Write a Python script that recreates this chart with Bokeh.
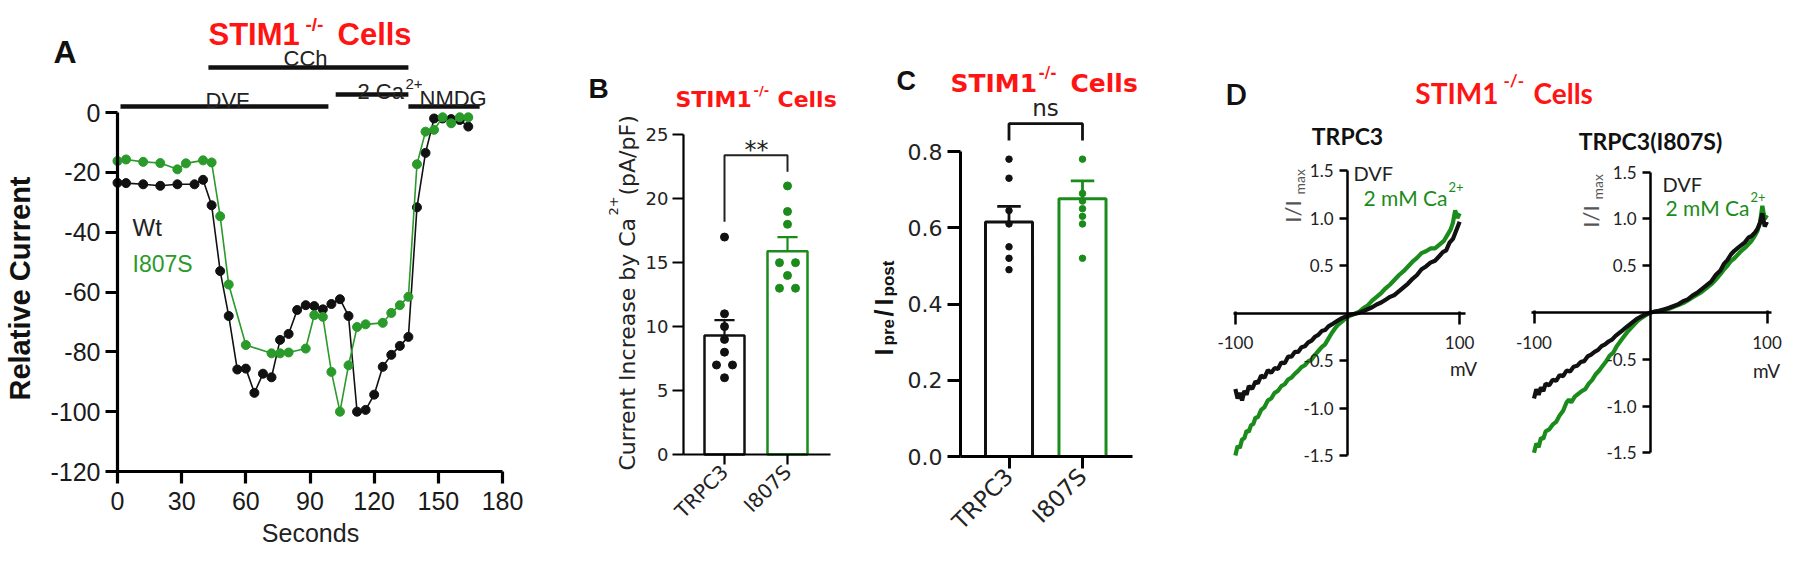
import math
from bokeh.plotting import figure
from bokeh.layouts import row
from bokeh.models import Label, FixedTicker, PrintfTickFormatter
from bokeh.embed import file_html
from bokeh.resources import INLINE

# ------------------------------------------------------------------ data
# Panel A: relative current vs time
time_wt = [0, 4, 12, 20, 28, 36, 40, 44, 48, 52, 56, 60, 64, 68, 72, 76, 80, 84, 88, 92,
           96, 100, 104, 108, 112, 116, 120, 124, 128, 132, 136, 140, 144, 148, 152, 156, 160, 164]
curr_wt = [-23.5, -23.6, -24, -24.5, -24, -24, -22.5, -31, -53, -68, -85.9, -85.6, -93.7, -87.3,
           -88.5, -76, -74, -66, -64.4, -64.7, -65.8, -64, -62.4, -68, -100, -99.4, -94.3, -85,
           -81, -78, -75, -31.7, -13.5, -2, -2, -2.2, -2.5, -4.7]
time_mut = [0, 4, 12, 20, 28, 32, 40, 44, 48, 52, 60, 72, 76, 80, 88, 92, 96, 100, 104, 108,
            112, 116, 124, 128, 132, 136, 140, 144, 148, 152, 156, 160, 164]
curr_mut = [-16.2, -15.7, -16.5, -16.9, -19, -17, -16, -16.7, -34.7, -57.5, -77.7, -80.5, -80.5,
            -80.2, -78.9, -67.7, -68.3, -86.7, -100, -84.5, -71.7, -70.8, -70.3, -67, -64.4,
            -61.6, -17.3, -6.4, -5.8, -1.6, -3.6, -1.6, -1.6]
proto_label = ["CCh", "DVF", "2 Ca", "NMDG"]
proto_start = [42.5, 1.4, 102.0, 136.0]
proto_end = [136.0, 98.6, 136.0, 169.3]
proto_level = [15.0, 2.0, 6.0, 2.0]

# Panel B: current increase by Ca2+
groups = ["TRPC3", "I807S"]
b_mean = [9.3, 15.9]
b_sem = [1.2, 1.1]
b_trpc3 = [17, 11, 10, 9, 8, 7, 7, 6]
b_i807s = [21, 19, 18, 15, 15, 14, 13, 13]

# Panel C: Ipre/Ipost
c_mean = [0.615, 0.676]
c_sem = [0.041, 0.047]
c_trpc3 = [0.78, 0.73, 0.645, 0.61, 0.55, 0.52, 0.49]
c_i807s = [0.78, 0.69, 0.67, 0.65, 0.63, 0.61, 0.52]

# Panel D: I/V curves (mV, I/Imax)
d1_dvf_mv = [-100, -98, -96, -94, -92, -90, -88, -85, -82, -80, -77, -74, -71, -68, -65, -62, -59,
             -56, -53, -50, -47, -44, -41, -38, -35, -32, -29, -26, -23, -20, -17, -14, -10, -6,
             -2, 2, 6, 10, 14, 18, 22, 26, 30, 34, 38, 42, 46, 50, 54, 58, 62, 66, 70, 74, 78,
             82, 85, 88, 91, 94, 96, 98, 100]
d1_dvf_i = [-0.80, -0.90, -0.84, -0.92, -0.82, -0.86, -0.77, -0.80, -0.72, -0.74, -0.66, -0.68,
            -0.60, -0.63, -0.58, -0.59, -0.52, -0.53, -0.46, -0.46, -0.41, -0.41, -0.36, -0.35,
            -0.31, -0.29, -0.25, -0.23, -0.19, -0.18, -0.14, -0.12, -0.09, -0.06, -0.04, -0.02,
            -0.01, 0.0, 0.02, 0.04, 0.06, 0.09, 0.11, 0.14, 0.17, 0.19, 0.23, 0.27, 0.31, 0.36,
            0.40, 0.46, 0.49, 0.53, 0.55, 0.60, 0.64, 0.66, 0.74, 0.78, 0.84, 0.90, 0.96]
d1_ca_mv = [-100, -98, -96, -94, -92, -90, -88, -86, -84, -82, -80, -77, -74, -71, -68, -65, -62,
            -59, -56, -53, -50, -47, -44, -41, -38, -35, -32, -29, -26, -23, -20, -17, -14, -11,
            -8, -5, -2, 2, 6, 10, 14, 18, 22, 26, 30, 34, 38, 42, 46, 50, 54, 58, 62, 66, 70, 74,
            78, 82, 86, 89, 92, 94, 96, 98, 100]
d1_ca_i = [-1.50, -1.40, -1.42, -1.33, -1.32, -1.24, -1.25, -1.18, -1.17, -1.10, -1.10, -1.02,
           -0.99, -0.92, -0.90, -0.84, -0.82, -0.77, -0.75, -0.70, -0.68, -0.64, -0.61, -0.57,
           -0.55, -0.51, -0.49, -0.44, -0.40, -0.36, -0.33, -0.27, -0.21, -0.16, -0.12, -0.09,
           -0.06, -0.03, -0.01, 0.01, 0.05, 0.08, 0.13, 0.17, 0.21, 0.26, 0.30, 0.35, 0.40, 0.44,
           0.49, 0.54, 0.58, 0.63, 0.65, 0.68, 0.68, 0.72, 0.76, 0.82, 0.88, 0.95, 1.08, 1.00, 1.05]
d2_dvf_mv = [-100, -98, -96, -94, -92, -90, -87, -84, -81, -78, -75, -72, -69, -66, -63, -60, -57,
             -54, -51, -48, -45, -42, -39, -36, -33, -30, -27, -24, -21, -18, -15, -12, -9, -6,
             -3, 0, 4, 8, 12, 16, 20, 24, 28, 32, 36, 40, 44, 48, 52, 56, 60, 63, 66, 69, 72, 75,
             78, 81, 84, 87, 90, 92, 94, 96, 98, 100]
d2_dvf_i = [-0.92, -0.82, -0.88, -0.80, -0.84, -0.76, -0.78, -0.72, -0.73, -0.67, -0.68, -0.62,
            -0.63, -0.58, -0.57, -0.53, -0.52, -0.47, -0.45, -0.42, -0.40, -0.36, -0.34, -0.31,
            -0.29, -0.25, -0.22, -0.19, -0.16, -0.13, -0.10, -0.07, -0.05, -0.03, -0.015, 0.0,
            0.01, 0.02, 0.035, 0.05, 0.07, 0.09, 0.12, 0.14, 0.18, 0.21, 0.25, 0.29, 0.33, 0.40,
            0.45, 0.52, 0.56, 0.62, 0.66, 0.69, 0.72, 0.75, 0.80, 0.82, 0.86, 0.90, 0.96, 1.06,
            0.92, 0.97]
d2_ca_mv = [-100, -98, -96, -94, -92, -90, -87, -84, -81, -78, -75, -72, -70, -68, -65, -62, -59,
            -56, -53, -50, -47, -44, -41, -38, -35, -32, -29, -26, -23, -20, -17, -14, -11, -8,
            -4, 0, 4, 8, 12, 16, 20, 24, 28, 32, 36, 40, 44, 48, 52, 56, 60, 63, 66, 69, 72, 75,
            78, 81, 84, 87, 90, 92, 94, 96, 98, 100]
d2_ca_i = [-1.50, -1.40, -1.44, -1.34, -1.35, -1.27, -1.25, -1.20, -1.17, -1.10, -1.05, -0.96,
           -0.93, -0.96, -0.90, -0.87, -0.84, -0.82, -0.76, -0.72, -0.66, -0.62, -0.57, -0.52,
           -0.46, -0.43, -0.36, -0.31, -0.26, -0.21, -0.17, -0.13, -0.09, -0.06, -0.03, 0.0,
           0.01, 0.015, 0.025, 0.04, 0.06, 0.08, 0.10, 0.13, 0.16, 0.19, 0.22, 0.26, 0.30, 0.35,
           0.41, 0.46, 0.50, 0.55, 0.58, 0.62, 0.66, 0.69, 0.73, 0.77, 0.83, 0.88, 0.96, 1.14,
           1.00, 1.04]

# ------------------------------------------------------------------ styles
TOP, BOTTOM = 0, 546          # figures occupy a 1784 x 546 block at the page's top-left
H = BOTTOM - TOP
BLACK = "#111111"
GREEN_A = "#2a9a2a"
GREEN = "#1b8c1b"
RED = "#ff1414"
ARIAL = "Liberation Sans"
WIDE = "DejaVu Sans"
CALI = "Lato"


class Frame:
    """Figure whose plotting frame fills it entirely; maps window pixels to data."""
    def __init__(self, left, width, x0_px, xs, y0_px, ys):
        self.left, self.width = left, width
        self.x0, self.xs, self.y0, self.ys = x0_px, xs, y0_px, ys
        self.xr = ((left - x0_px) / xs, (left + width - x0_px) / xs)
        self.yr = ((y0_px - BOTTOM) / ys, (y0_px - TOP) / ys)

    def x(self, rx):
        return (rx - self.x0) / self.xs

    def y(self, ry):
        return (self.y0 - ry) / self.ys


def new_fig(fr):
    p = figure(width=fr.width, height=H, x_range=fr.xr, y_range=fr.yr, output_backend="svg",
               toolbar_location=None, min_border=0, min_border_left=0, min_border_right=0,
               min_border_top=0, min_border_bottom=0)
    p.outline_line_color = None
    p.xgrid.visible = False
    p.ygrid.visible = False
    p.background_fill_color = "white"
    p.border_fill_color = "white"
    return p


def style_axis(ax, font, size, lw, tick_out, tick_in=0, standoff=5, color="#1a1a1a"):
    ax.axis_line_width = lw
    ax.axis_line_color = "black"
    ax.major_tick_line_width = lw
    ax.major_tick_line_color = "black"
    ax.major_tick_out = tick_out
    ax.major_tick_in = tick_in
    ax.minor_tick_line_color = None
    ax.major_label_text_font = font
    ax.major_label_text_font_size = f"{size}px"
    ax.major_label_text_color = color
    ax.major_label_standoff = standoff


def txt(p, fr, rx, ry, text, size, font, color=BLACK, bold=False, align="left",
        baseline="alphabetic", angle=0.0):
    p.add_layout(Label(x=fr.x(rx), y=fr.y(ry), text=text, text_font=font,
                       text_font_size=f"{size}px",
                       text_font_style="bold" if bold else "normal",
                       text_color=color, text_align=align, text_baseline=baseline,
                       angle=angle))


def swarm(vals, step):
    offs = []
    for i, v in enumerate(vals):
        n = vals.count(v)
        k = vals[:i].count(v)
        offs.append((k - (n - 1) / 2) * step)
    return offs


UP = math.pi / 2

# ------------------------------------------------------------------ panel A
fa = Frame(0, 556, 117, 2.139, 112, 2.992)
pa = new_fig(fa)
pa.segment(x0=proto_start, y0=proto_level, x1=proto_end, y1=proto_level,
           line_color=BLACK, line_width=4.5)
pa.line(time_wt, curr_wt, line_color=BLACK, line_width=1.6)
pa.scatter(time_wt, curr_wt, size=9, fill_color=BLACK, line_color=BLACK)
pa.line(time_mut, curr_mut, line_color=GREEN_A, line_width=1.6)
pa.scatter(time_mut, curr_mut, size=9, fill_color=GREEN_A, line_color=GREEN_A)
pa.xaxis.fixed_location = -120
pa.yaxis.fixed_location = 0
pa.xaxis.ticker = FixedTicker(ticks=[0, 30, 60, 90, 120, 150, 180])
pa.yaxis.ticker = FixedTicker(ticks=[-120, -100, -80, -60, -40, -20, 0])
pa.yaxis.formatter = PrintfTickFormatter(format="%d")
pa.xaxis.bounds = (0, 180)
pa.yaxis.bounds = (-120, 0)
style_axis(pa.xaxis, ARIAL, 25, 3.2, 12, 0, 8)
style_axis(pa.yaxis, ARIAL, 25, 3.2, 12, 0, 5)
txt(pa, fa, 53, 51, "A", 32, ARIAL, bold=True)
txt(pa, fa, 208, 34, "STIM1", 31, ARIAL, RED, bold=True)
txt(pa, fa, 305, 24, "-/-", 19, ARIAL, RED, bold=True)
txt(pa, fa, 337, 34, "Cells", 31, ARIAL, RED, bold=True)
txt(pa, fa, 305, 58, proto_label[0], 22, ARIAL, "#222222", align="center")
txt(pa, fa, 227, 100, proto_label[1], 22, ARIAL, "#222222", align="center")
txt(pa, fa, 357, 91, proto_label[2], 22, ARIAL, "#222222")
txt(pa, fa, 405, 83, "2+", 15, ARIAL, "#222222")
txt(pa, fa, 419, 98, proto_label[3], 22, ARIAL, "#222222")
txt(pa, fa, 132, 227, "Wt", 24, ARIAL, "#222222")
txt(pa, fa, 132, 263, "I807S", 23, ARIAL, GREEN_A)
txt(pa, fa, 310, 532, "Seconds", 25, ARIAL, "#222222", align="center")
txt(pa, fa, 19, 288, "Relative Current", 29, ARIAL, bold=True, align="center",
    baseline="middle", angle=UP)

# ------------------------------------------------------------------ panel B
cat_x = [1, 2]
fb = Frame(556, 300, 724 - 63, 63, 454, 12.79)
pb = new_fig(fb)
pb.vbar(x=cat_x, top=b_mean, width=0.635, fill_color="white",
        line_color=[BLACK, GREEN], line_width=2.5)
b_top = [m + s for m, s in zip(b_mean, b_sem)]
pb.segment(x0=cat_x, y0=b_mean, x1=cat_x, y1=b_top, line_color=[BLACK, GREEN], line_width=2.2)
pb.segment(x0=[c - 0.16 for c in cat_x], y0=b_top, x1=[c + 0.16 for c in cat_x], y1=b_top,
           line_color=[BLACK, GREEN], line_width=2.2)
pb.scatter([1 + o for o in swarm(b_trpc3, 0.254)], b_trpc3, size=8, fill_color=BLACK,
           line_color=BLACK)
pb.scatter([2 + o for o in swarm(b_i807s, 0.254)], b_i807s, size=8, fill_color=GREEN,
           line_color=GREEN)
pb.line([1, 1, 2, 2], [18.2, 23.4, 23.4, 22.1], line_color="#222222", line_width=2)
b_left, b_right = fb.x(683), fb.x(830)
pb.xaxis.fixed_location = 0
pb.yaxis.fixed_location = b_left
pb.xaxis.bounds = (b_left, b_right)
pb.yaxis.bounds = (0, 25)
pb.xaxis.ticker = FixedTicker(ticks=cat_x)
pb.xaxis.major_label_overrides = {1: groups[0], 2: groups[1]}
pb.xaxis.major_label_orientation = math.pi / 4
pb.yaxis.ticker = FixedTicker(ticks=[0, 5, 10, 15, 20, 25])
style_axis(pb.xaxis, WIDE, 20, 2.2, 10, 0, 4, "#222222")
style_axis(pb.yaxis, WIDE, 18, 2.2, 11, 0, 4, "#222222")
txt(pb, fb, 588, 88, "B", 28, ARIAL, bold=True)
txt(pb, fb, 675, 99, "STIM1", 22, WIDE, RED, bold=True)
txt(pb, fb, 753, 90, "-/-", 13, WIDE, RED, bold=True)
txt(pb, fb, 777, 99, "Cells", 22, WIDE, RED, bold=True)
txt(pb, fb, 756, 149, "**", 24, WIDE, "#222222", align="center")
txt(pb, fb, 627, 470, "Current Increase by Ca", 22, WIDE, "#222222", baseline="middle",
    angle=UP)
txt(pb, fb, 613, 215, "2+", 13, WIDE, "#222222", baseline="middle", angle=UP)
txt(pb, fb, 627, 195, "(pA/pF)", 22, WIDE, "#222222", baseline="middle", angle=UP)

# ------------------------------------------------------------------ panel C
fc = Frame(856, 320, 1008.5 - 73.5, 73.5, 456, 381.25)
pc = new_fig(fc)
pc.vbar(x=cat_x, top=c_mean, width=0.64, fill_color="white",
        line_color=[BLACK, GREEN], line_width=3)
c_top = [m + s for m, s in zip(c_mean, c_sem)]
pc.segment(x0=cat_x, y0=c_mean, x1=cat_x, y1=c_top, line_color=[BLACK, GREEN], line_width=2.8)
pc.segment(x0=[c - 0.16 for c in cat_x], y0=c_top, x1=[c + 0.16 for c in cat_x], y1=c_top,
           line_color=[BLACK, GREEN], line_width=2.8)
pc.scatter([1 + o for o in swarm(c_trpc3, 0.2)], c_trpc3, size=6.5, fill_color=BLACK,
           line_color=BLACK)
pc.scatter([2 + o for o in swarm(c_i807s, 0.2)], c_i807s, size=6.5, fill_color=GREEN,
           line_color=GREEN)
pc.line([1, 1, 2, 2], [0.829, 0.873, 0.873, 0.829], line_color=BLACK, line_width=2.8)
c_left, c_right = fc.x(960), fc.x(1132)
pc.xaxis.fixed_location = 0
pc.yaxis.fixed_location = c_left
pc.xaxis.bounds = (c_left, c_right)
pc.yaxis.bounds = (0, 0.8)
pc.xaxis.ticker = FixedTicker(ticks=cat_x)
pc.xaxis.major_label_overrides = {1: groups[0], 2: groups[1]}
pc.xaxis.major_label_orientation = math.pi / 4
pc.yaxis.ticker = FixedTicker(ticks=[0, 0.2, 0.4, 0.6, 0.8])
pc.yaxis.formatter = PrintfTickFormatter(format="%.1f")
style_axis(pc.xaxis, WIDE, 23, 3, 12, 0, 4, "#222222")
style_axis(pc.yaxis, WIDE, 22, 3, 13, 0, 5, "#222222")
txt(pc, fc, 896, 80, "C", 27, ARIAL, bold=True)
txt(pc, fc, 950, 83, "STIM1", 25, WIDE, RED, bold=True)
txt(pc, fc, 1038, 72, "-/-", 15, WIDE, RED, bold=True)
txt(pc, fc, 1070, 83, "Cells", 25, WIDE, RED, bold=True)
txt(pc, fc, 1045, 107, "ns", 23, WIDE, "#222222", align="center")
txt(pc, fc, 883, 355, "I", 25, ARIAL, bold=True, angle=UP)
txt(pc, fc, 888, 345, "pre", 17, ARIAL, bold=True, angle=UP)
txt(pc, fc, 883, 316, "/", 25, ARIAL, bold=True, angle=UP)
txt(pc, fc, 883, 305, "I", 25, ARIAL, bold=True, angle=UP)
txt(pc, fc, 888, 296, "post", 17, ARIAL, bold=True, angle=UP)


# ------------------------------------------------------------------ panel D
def iv_fig(fr, ca_mv, ca_i, dvf_mv, dvf_i, xb):
    p = new_fig(fr)
    p.line(ca_mv, ca_i, line_color=GREEN, line_width=4.2)
    p.line(dvf_mv, dvf_i, line_color=BLACK, line_width=4.2)
    p.xaxis.fixed_location = 0
    p.yaxis.fixed_location = 0
    p.xaxis.bounds = xb
    p.yaxis.bounds = (-1.5, 1.5)
    p.xaxis.ticker = FixedTicker(ticks=[-100, 100])
    p.xaxis.formatter = PrintfTickFormatter(format="%d")
    p.yaxis.ticker = FixedTicker(ticks=[-1.5, -1.0, -0.5, 0.5, 1.0, 1.5])
    p.yaxis.formatter = PrintfTickFormatter(format="%.1f")
    style_axis(p.xaxis, CALI, 17, 2.5, 11, 2, 12, "#222222")
    style_axis(p.yaxis, CALI, 17, 2.5, 8, 0, 6, "#222222")
    return p


fd1 = Frame(1176, 324, 1347, 1.1215, 312.5, 95)
pd1 = iv_fig(fd1, d1_ca_mv, d1_ca_i, d1_dvf_mv, d1_dvf_i, (-102, 105))
txt(pd1, fd1, 1225, 93, "D", 28, CALI, bold=True)
txt(pd1, fd1, 1498, 92, "STIM1", 28, CALI, RED, bold=True, align="right")
txt(pd1, fd1, 1347, 135, "TRPC3", 23, CALI, bold=True, align="center")
txt(pd1, fd1, 1353, 172, "DVF", 20, CALI, "#222222")
txt(pd1, fd1, 1447, 197, "2 mM Ca", 21, CALI, GREEN, align="right")
txt(pd1, fd1, 1448, 186, "2+", 13, CALI, GREEN)
txt(pd1, fd1, 1463, 368, "mV", 19, CALI, "#222222", align="center")
txt(pd1, fd1, 1292, 211, "I/I", 22, CALI, "#555555", align="center", angle=UP)
txt(pd1, fd1, 1299, 194, "max", 14, CALI, "#555555", angle=UP)

fd2 = Frame(1500, 284, 1650, 1.165, 312, 93.53)
pd2 = iv_fig(fd2, d2_ca_mv, d2_ca_i, d2_dvf_mv, d2_dvf_i, (-102, 104))
txt(pd2, fd2, 1503, 80, "-/-", 17, CALI, RED, bold=True)
txt(pd2, fd2, 1533, 92, "Cells", 28, CALI, RED, bold=True)
txt(pd2, fd2, 1650, 140, "TRPC3(I807S)", 23, CALI, bold=True, align="center")
txt(pd2, fd2, 1662, 183, "DVF", 20, CALI, "#222222")
txt(pd2, fd2, 1749, 207, "2 mM Ca", 21, CALI, GREEN, align="right")
txt(pd2, fd2, 1750, 196, "2+", 13, CALI, GREEN)
txt(pd2, fd2, 1766, 370, "mV", 19, CALI, "#222222", align="center")
txt(pd2, fd2, 1590, 216, "I/I", 22, CALI, "#555555", align="center", angle=UP)
txt(pd2, fd2, 1597, 199, "max", 14, CALI, "#555555", angle=UP)

layout = row(pa, pb, pc, pd1, pd2)
open("out.html", "w").write(file_html(layout, INLINE))
